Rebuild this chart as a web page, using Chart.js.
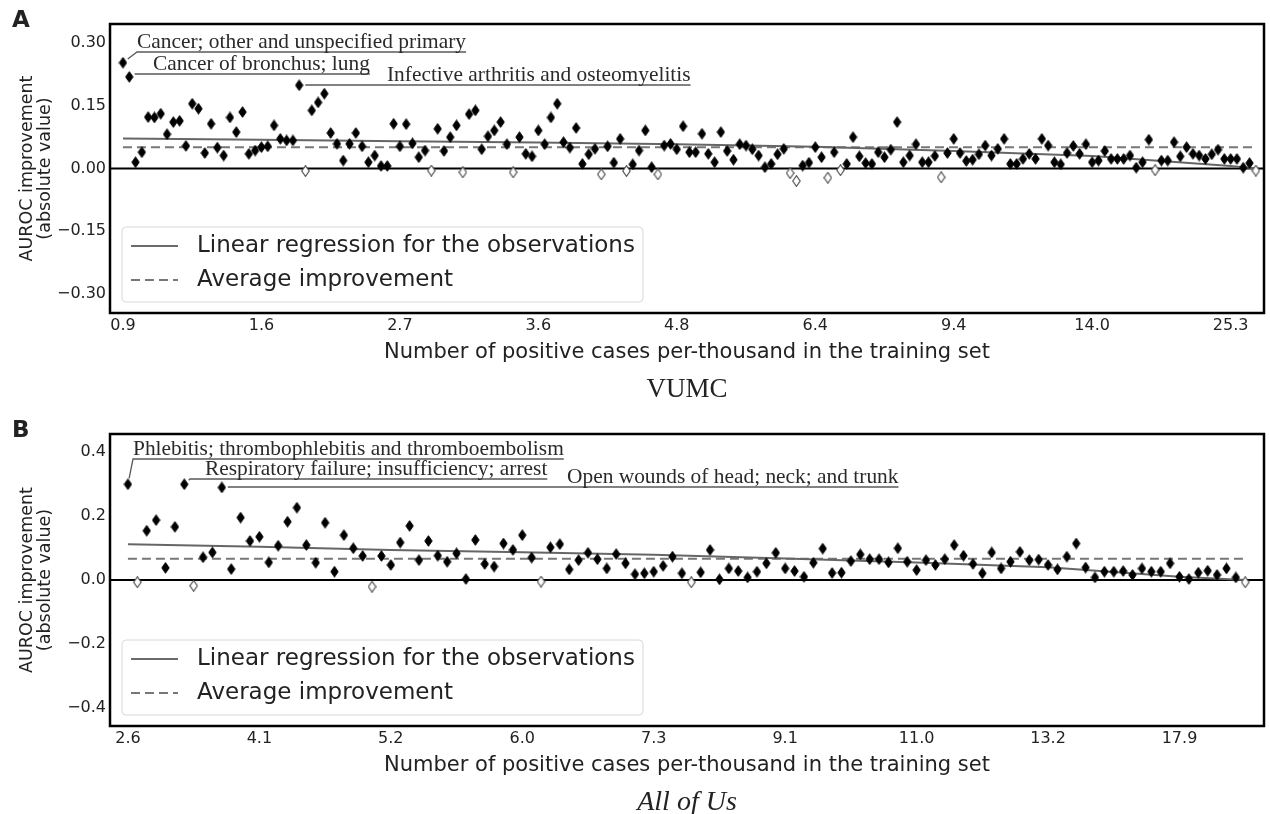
<!DOCTYPE html>
<html>
<head>
<meta charset="utf-8">
<script src="https://cdn.jsdelivr.net/npm/chart.js@4.4.1/dist/chart.umd.min.js"></script>
<style>
  html, body { margin: 0; padding: 0; background: #fff; }
  #wrap { position: relative; width: 1270px; height: 814px; }
  #wrap canvas { position: absolute; left: 0; }
</style>
</head>
<body>
<div id="wrap">
  <canvas id="chartA" width="1270" height="407" style="top:0"></canvas>
  <canvas id="chartB" width="1270" height="407" style="top:407px"></canvas>
</div>
<script>
// ---- data ----
const ticksA = ['0.9', '1.6', '2.7', '3.6', '4.8', '6.4', '9.4', '14.0', '25.3'];
const ticksB = ['2.6', '4.1', '5.2', '6.0', '7.3', '9.1', '11.0', '13.2', '17.9'];

// AUROC improvement per phenotype, ordered by positive cases per-thousand
const improvementA = [
  0.253, 0.219, 0.015, 0.039, 0.123, 0.122, 0.131, 0.082, 0.111, 0.114,
  0.054, 0.155, 0.143, 0.037, 0.107, 0.050, 0.031, 0.122, 0.087, 0.135,
  0.035, 0.043, 0.051, 0.053, 0.103, 0.071, 0.067, 0.067, 0.199, -0.006,
  0.139, 0.158, 0.179, 0.085, 0.059, 0.019, 0.059, 0.085, 0.053, 0.015,
  0.031, 0.006, 0.006, 0.107, 0.053, 0.106, 0.060, 0.027, 0.043, -0.005,
  0.095, 0.042, 0.075, 0.103, -0.009, 0.130, 0.139, 0.046, 0.077, 0.091,
  0.111, 0.058, -0.009, 0.075, 0.035, 0.029, 0.091, 0.058, 0.122, 0.155,
  0.063, 0.050, 0.097, 0.011, 0.034, 0.047, -0.014, 0.053, 0.014, 0.071,
  -0.006, 0.010, 0.043, 0.091, 0.003, -0.014, 0.055, 0.059, 0.046, 0.101,
  0.039, 0.039, 0.083, 0.035, 0.015, 0.087, 0.042, 0.021, 0.058, 0.055,
  0.046, 0.031, 0.003, 0.011, 0.034, 0.047, -0.011, -0.030, 0.007, 0.014,
  0.051, 0.027, -0.022, 0.039, -0.004, 0.011, 0.075, 0.029, 0.013, 0.011,
  0.039, 0.027, 0.045, 0.111, 0.015, 0.031, 0.058, 0.015, 0.015, 0.030,
  -0.021, 0.037, 0.071, 0.037, 0.018, 0.021, 0.034, 0.055, 0.031, 0.047,
  0.071, 0.011, 0.011, 0.023, 0.035, 0.023, 0.071, 0.055, 0.015, 0.010,
  0.037, 0.054, 0.035, 0.058, 0.015, 0.019, 0.042, 0.023, 0.023, 0.023,
  0.031, 0.002, 0.015, 0.069, -0.004, 0.019, 0.019, 0.063, 0.029, 0.051,
  0.035, 0.031, 0.023, 0.034, 0.045, 0.023, 0.023, 0.023, 0.002, 0.013,
  -0.005
];
const improvementB = [
  0.299, -0.007, 0.154, 0.187, 0.038, 0.166, 0.299, -0.018, 0.071, 0.086,
  0.289, 0.034, 0.195, 0.122, 0.135, 0.055, 0.107, 0.182, 0.226, 0.109,
  0.054, 0.179, 0.026, 0.140, 0.099, 0.075, -0.021, 0.075, 0.047, 0.117,
  0.169, 0.062, 0.122, 0.076, 0.057, 0.083, 0.003, 0.125, 0.050, 0.042,
  0.114, 0.094, 0.140, 0.070, -0.005, 0.102, 0.112, 0.033, 0.062, 0.085,
  0.065, 0.036, 0.081, 0.052, 0.018, 0.021, 0.026, 0.044, 0.073, 0.021,
  -0.007, 0.024, 0.094, 0.002, 0.036, 0.028, 0.008, 0.026, 0.052, 0.085,
  0.036, 0.028, 0.010, 0.054, 0.098, 0.022, 0.023, 0.059, 0.080, 0.065,
  0.065, 0.055, 0.099, 0.057, 0.031, 0.062, 0.047, 0.065, 0.109, 0.076,
  0.050, 0.021, 0.086, 0.036, 0.057, 0.088, 0.062, 0.064, 0.047, 0.033,
  0.073, 0.114, 0.039, 0.008, 0.026, 0.026, 0.028, 0.016, 0.036, 0.026,
  0.026, 0.052, 0.010, 0.003, 0.023, 0.029, 0.016, 0.036, 0.008, -0.007
];

// fitted line, read at the tick positions (index along the x axis)
const regIndexA = [0, 22, 44, 66, 88, 110, 132, 154, 176, 180];
const regLineA = [0.072, 0.069, 0.065, 0.062, 0.058, 0.052, 0.042, 0.030, 0.006, 0.0];
const regIndexB = [0, 14, 28, 42, 56, 70, 84, 98, 112, 119];
const regLineB = [0.112, 0.104, 0.094, 0.087, 0.079, 0.067, 0.055, 0.040, 0.010, 0.0];

const averageA = 0.051;
const averageB = 0.066;

const notesA = ['Cancer; other and unspecified primary', 'Cancer of bronchus; lung', 'Infective arthritis and osteomyelitis'];
const notesB = ['Phlebitis; thrombophlebitis and thromboembolism', 'Respiratory failure; insufficiency; arrest', 'Open wounds of head; neck; and trunk'];

const legendLabels = ['Linear regression for the observations', 'Average improvement'];
const xTitle = 'Number of positive cases per-thousand in the training set';
const yTitle = ['AUROC improvement', '(absolute value)'];

// ---- drawing ----
Chart.defaults.font.family = "'DejaVu Sans', sans-serif";
Chart.defaults.color = '#222';

function makeDiamond(fill, stroke, lw) {
  const c = document.createElement('canvas');
  c.width = 9; c.height = 12;
  const g = c.getContext('2d');
  g.beginPath();
  g.moveTo(4.5, 0.7); g.lineTo(8.2, 6); g.lineTo(4.5, 11.3); g.lineTo(0.8, 6);
  g.closePath();
  g.fillStyle = fill; g.fill();
  g.lineWidth = lw; g.strokeStyle = stroke; g.stroke();
  return c;
}
const solidMark = makeDiamond('#000', '#000', 1);
const hollowMark = makeDiamond('#fff', '#555', 1.2);

const minus = s => s.replace('-', '\u2212');

function decorPlugin(p) {
  return {
    id: 'decor',
    beforeDatasetsDraw(chart) {
      const { ctx, chartArea: a, scales: { y } } = chart;
      const y0 = y.getPixelForValue(0);
      ctx.save();
      ctx.strokeStyle = '#000';
      ctx.lineWidth = 2.2;
      ctx.beginPath(); ctx.moveTo(a.left, y0); ctx.lineTo(a.right, y0); ctx.stroke();
      ctx.restore();
    },
    afterDatasetsDraw(chart) {
      const { ctx, scales: { x, y } } = chart;
      ctx.save();
      ctx.font = "21.4px 'Liberation Serif', serif";
      ctx.fillStyle = '#2a2a2a';
      ctx.strokeStyle = '#5a5a5a';
      ctx.lineWidth = 1.3;
      p.notes.forEach((text, k) => {
        const n = p.noteLayout[k];
        const px = x.getPixelForValue(n.idx), py = y.getPixelForValue(p.values[n.idx]);
        const w = ctx.measureText(text).width;
        const dx = n.ux - px, dy = n.uy - py, len = Math.hypot(dx, dy);
        ctx.beginPath();
        ctx.moveTo(px + dx / len * 6, py + dy / len * 6);
        ctx.lineTo(n.ux, n.uy);
        ctx.lineTo(n.tx + w, n.uy);
        ctx.stroke();
        ctx.textAlign = 'left';
        ctx.textBaseline = 'alphabetic';
        ctx.fillText(text, n.tx, n.uy - 4);
      });
      ctx.restore();
    },
    afterDraw(chart) {
      const { ctx, chartArea: a } = chart;
      ctx.save();
      // frame
      ctx.strokeStyle = '#000';
      ctx.lineWidth = 2.5;
      ctx.strokeRect(a.left, a.top, a.right - a.left, a.bottom - a.top);

      // legend
      const lx = a.left + 12, lw = 521, lh = 75, ly = a.bottom - 11 - lh;
      ctx.beginPath();
      ctx.roundRect(lx, ly, lw, lh, 4);
      ctx.fillStyle = 'rgba(255,255,255,0.85)';
      ctx.fill();
      ctx.strokeStyle = '#d8d8d8';
      ctx.lineWidth = 1;
      ctx.stroke();
      const rows = [ly + 19, ly + 53];
      ctx.strokeStyle = '#6a6a6a';
      ctx.lineWidth = 2;
      ctx.beginPath(); ctx.moveTo(lx + 9, rows[0]); ctx.lineTo(lx + 56, rows[0]); ctx.stroke();
      ctx.strokeStyle = '#777';
      ctx.setLineDash([9, 5]);
      ctx.beginPath(); ctx.moveTo(lx + 9, rows[1]); ctx.lineTo(lx + 56, rows[1]); ctx.stroke();
      ctx.setLineDash([]);
      ctx.fillStyle = '#222';
      ctx.font = "23px 'DejaVu Sans', sans-serif";
      ctx.textAlign = 'left';
      ctx.textBaseline = 'middle';
      legendLabels.forEach((t, i) => ctx.fillText(t, lx + 75, rows[i]));

      // panel letter
      ctx.font = "bold 23px 'DejaVu Sans', sans-serif";
      ctx.fillText(p.letter, 12, a.top - 3);

      // y title
      ctx.save();
      ctx.translate(0, (a.top + a.bottom) / 2);
      ctx.rotate(-Math.PI / 2);
      ctx.textAlign = 'center';
      ctx.font = "17.5px 'DejaVu Sans', sans-serif";
      ctx.fillText(yTitle[0], 0, 27);
      ctx.fillText(yTitle[1], 0, 45);
      ctx.restore();

      // x title and dataset name
      ctx.textAlign = 'center';
      ctx.font = "21px 'DejaVu Sans', sans-serif";
      ctx.fillText(xTitle, (a.left + a.right) / 2, a.bottom + 40);
      ctx.font = (p.italic ? 'italic ' : '') + p.subSize + "px 'Liberation Serif', serif";
      ctx.fillText(p.subtitle, (a.left + a.right) / 2, a.bottom + 77);
      ctx.restore();
    }
  };
}

function buildPanel(id, p) {
  const tickIdx = p.tickLabels.map((_, i) => i * p.tickStep);
  new Chart(document.getElementById(id), {
    type: 'scatter',
    data: {
      datasets: [
        {
          label: 'obs',
          data: p.values.map((v, i) => ({ x: i, y: v })),
          pointStyle: ctx => (ctx.raw && ctx.raw.y < 0 ? hollowMark : solidMark),
          pointRadius: 5,
          order: 0
        },
        {
          label: 'reg',
          type: 'line',
          data: p.regIndex.map((x, i) => ({ x: x, y: p.regLine[i] })),
          borderColor: '#666',
          borderWidth: 2,
          pointRadius: 0,
          tension: 0,
          order: 1
        },
        {
          label: 'avg',
          type: 'line',
          data: [{ x: 0, y: p.average }, { x: p.values.length - 1, y: p.average }],
          borderColor: '#777',
          borderWidth: 2,
          borderDash: [9, 5],
          pointRadius: 0,
          order: 2
        }
      ]
    },
    options: {
      responsive: false,
      animation: false,
      events: [],
      layout: { padding: { top: p.top, right: 1, left: 0, bottom: 0 } },
      plugins: { legend: { display: false }, tooltip: { enabled: false } },
      scales: {
        x: {
          type: 'linear',
          min: p.xMin,
          max: p.xMax,
          afterBuildTicks: s => { s.ticks = tickIdx.map(v => ({ value: v })); },
          afterFit: s => { s.height = p.xAxisH; },
          ticks: {
            autoSkip: false,
            maxRotation: 0,
            padding: 3,
            font: { size: 16 },
            color: '#222',
            callback: v => p.tickLabels[Math.round(v / p.tickStep)]
          },
          grid: { display: false, drawTicks: false },
          border: { display: false }
        },
        y: {
          min: -p.yMax,
          max: p.yMax,
          afterBuildTicks: s => { s.ticks = p.yTicks.map(v => ({ value: v })); },
          afterFit: s => { s.width = 110; },
          ticks: {
            padding: 4,
            font: { size: 16 },
            color: '#222',
            callback: v => minus(v.toFixed(p.yDigits))
          },
          grid: { display: false, drawTicks: false },
          border: { display: false }
        }
      }
    },
    plugins: [decorPlugin(p)]
  });
}

buildPanel('chartA', {
  values: improvementA, regIndex: regIndexA, regLine: regLineA, average: averageA,
  tickLabels: ticksA, tickStep: 22, xMin: -2.06, xMax: 181.3,
  yMax: 0.3456, yTicks: [-0.3, -0.15, 0, 0.15, 0.3], yDigits: 2,
  top: 24, xAxisH: 94, letter: 'A', subtitle: 'VUMC', italic: false, subSize: 27,
  notes: notesA,
  noteLayout: [
    { idx: 0, ux: 137, uy: 52, tx: 137 },
    { idx: 1, ux: 135, uy: 74, tx: 153 },
    { idx: 28, ux: 307, uy: 85, tx: 387 }
  ]
});

buildPanel('chartB', {
  values: improvementB, regIndex: regIndexB, regLine: regLineB, average: averageB,
  tickLabels: ticksB, tickStep: 14, xMin: -1.91, xMax: 121.0,
  yMax: 0.456, yTicks: [-0.4, -0.2, 0, 0.2, 0.4], yDigits: 1,
  top: 27, xAxisH: 88, letter: 'B', subtitle: 'All of Us', italic: true, subSize: 28,
  notes: notesB,
  noteLayout: [
    { idx: 0, ux: 133, uy: 52, tx: 133 },
    { idx: 6, ux: 190, uy: 72, tx: 205 },
    { idx: 10, ux: 228, uy: 80, tx: 567 }
  ]
});
</script>
</body>
</html>
